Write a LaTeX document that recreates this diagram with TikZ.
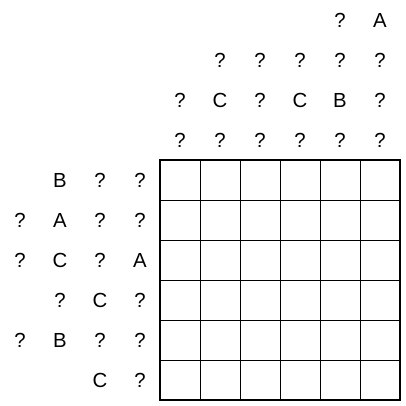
\documentclass[tikz,border=0pt]{standalone}
\usepackage{fontspec}
\setmainfont{Liberation Sans}
\begin{document}
\begin{tikzpicture}[font=\fontsize{14.5}{16}\selectfont]
			      \useasboundingbox (-4,-0.15) rectangle (6.15,10);
			      \draw[line width=0.7pt] (0,0) grid (6,6);
			      \draw[line width=2.1pt] (0,0) rectangle (6,6);

			      % clues above the grid
			      \node (ta5) at (4.5, 9.5) {?};
			      \node (ta6) at (5.5, 9.5) {A};

			      \node (tb2) at (1.5, 8.5) {?};
			      \node (tb3) at (2.5, 8.5) {?};
			      \node (tb4) at (3.5, 8.5) {?};
			      \node (tb5) at (4.5, 8.5) {?};
			      \node (tb6) at (5.5, 8.5) {?};

			      \node (tc1) at (0.5, 7.5) {?};
			      \node (tc2) at (1.5, 7.5) {C};
			      \node (tc3) at (2.5, 7.5) {?};
			      \node (tc4) at (3.5, 7.5) {C};
			      \node (tc5) at (4.5, 7.5) {B};
			      \node (tc6) at (5.5, 7.5) {?};

			      \node (td1) at (0.5, 6.5) {?};
			      \node (td2) at (1.5, 6.5) {?};
			      \node (td3) at (2.5, 6.5) {?};
			      \node (td4) at (3.5, 6.5) {?};
			      \node (td5) at (4.5, 6.5) {?};
			      \node (td6) at (5.5, 6.5) {?};

			      % clues left of the grid
			      \node (la2) at (-2.5, 5.5) {B};
			      \node (la3) at (-1.5, 5.5) {?};
			      \node (la4) at (-0.5, 5.5) {?};

			      \node (lb1) at (-3.5, 4.5) {?};
			      \node (lb2) at (-2.5, 4.5) {A};
			      \node (lb3) at (-1.5, 4.5) {?};
			      \node (lb4) at (-0.5, 4.5) {?};

			      \node (lc1) at (-3.5, 3.5) {?};
			      \node (lc2) at (-2.5, 3.5) {C};
			      \node (lc3) at (-1.5, 3.5) {?};
			      \node (lc4) at (-0.5, 3.5) {A};

			      \node (ld2) at (-2.5, 2.5) {?};
			      \node (ld3) at (-1.5, 2.5) {C};
			      \node (ld4) at (-0.5, 2.5) {?};

			      \node (le1) at (-3.5, 1.5) {?};
			      \node (le2) at (-2.5, 1.5) {B};
			      \node (le3) at (-1.5, 1.5) {?};
			      \node (le4) at (-0.5, 1.5) {?};

			      \node (lf3) at (-1.5, 0.5) {C};
			      \node (lf4) at (-0.5, 0.5) {?};
		      \end{tikzpicture}
\end{document}
